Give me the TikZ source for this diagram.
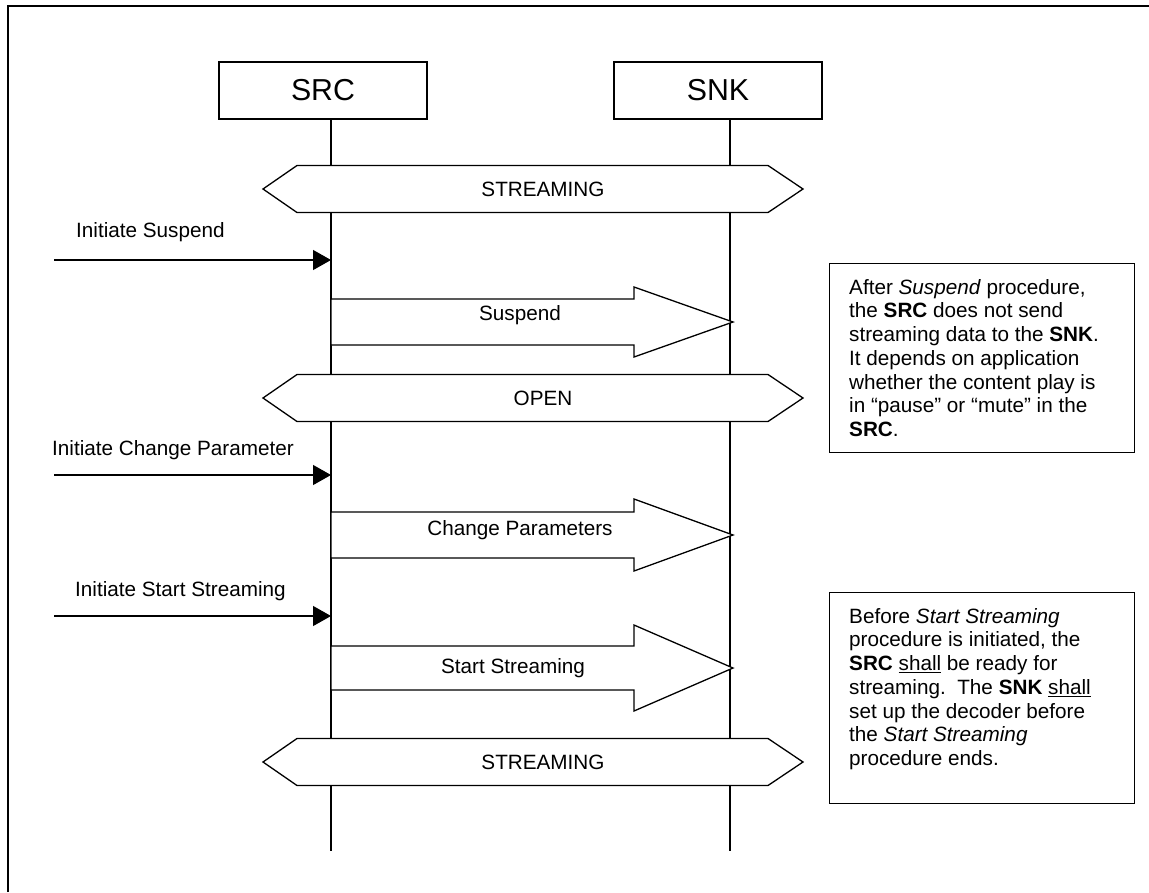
\documentclass[tikz,border=0pt]{standalone}
\usepackage{fontspec}
\setmainfont{Liberation Sans}
\usetikzlibrary{arrows.meta}

\tikzset{
	entity/.style={draw, line width=1.3pt, minimum width=208pt, minimum height=57pt, inner sep=0pt, font=\fontsize{30.3}{36}\selectfont},
	life/.style={line width=1.3pt},
	statebar/.style={draw, line width=1.3pt, fill=white},
	msgbar/.style={draw, line width=1.3pt, fill=white},
	initarrow/.style={line width=1.3pt, -{Triangle[length=18pt,width=20pt]}},
	lbl/.style={inner sep=0pt, font=\fontsize{20.7}{23.7}\selectfont},
	notebox/.style={draw, line width=1.3pt, minimum width=305pt, anchor=north west, inner sep=0pt},
	notetext/.style={lbl, align=left, anchor=north west},
}

\begin{document}
\begin{tikzpicture}[x=1pt, y=-1pt]
	\useasboundingbox (0,0) rectangle (1149,892);
	\def\xs{331}
	\def\xk{730}
	\def\yend{851}
	% frame
	\draw[line width=2pt] (8,892) -- (8,6) -- (1149,6);

	% entities and life lines
	\node[entity] (src) at (323,90.5) {SRC};
	\node[entity] (snk) at (718,90.5) {SNK};
	\coordinate (srcEnd) at (\xs,\yend);
	\coordinate (snkEnd) at (\xk,\yend);
	\draw[life] (src.south -| srcEnd) -- (srcEnd);
	\draw[life] (snk.south -| snkEnd) -- (snkEnd);

	% states
	\foreach \y/\nm/\txt in {189/stream1/STREAMING, 398/open/OPEN, 762/stream2/STREAMING} {
		\draw[statebar] (263,\y) -- (297,\y-23.5) -- (768,\y-23.5) -- (803,\y) -- (768,\y+23.5) -- (297,\y+23.5) -- cycle;
		\node[lbl] (\nm) at (543,\y) {\txt};
	}

	% procedures
	\foreach \y/\bh/\hh/\tx/\ty/\nm/\txt in {322/23/35/520/315/susp/Suspend, 535/23/36/520/530/chg/Change Parameters, 668/22/43/513/668/start/Start Streaming} {
		\draw[msgbar] (\xs,\y-\bh) -- (634,\y-\bh) -- (634,\y-\hh) -- (733,\y) -- (634,\y+\hh) -- (634,\y+\bh) -- (\xs,\y+\bh) -- cycle;
		\node[lbl] (\nm) at (\tx,\ty) {\txt};
	}

	% user requests
	\foreach \y/\tx/\ty/\nm/\txt in {260/76/232/iSusp/Initiate Suspend, 475/52/450/iChg/Initiate Change Parameter, 616/75/591/iStart/Initiate Start Streaming} {
		\coordinate (\nm-a) at (54,\y);
		\coordinate (\nm-b) at (\xs,\y);
		\node[lbl, anchor=west] (\nm) at (\tx,\ty) {\txt};
		\draw[initarrow] (\nm-a) -- (\nm-b);
	}

	% notes
	\node[notebox, minimum height=189pt] (note1) at (829,263) {};
	\node[notetext] (note1txt) at (849,279) {After \textit{Suspend} procedure,\\
		the \textbf{SRC} does not send\\
		streaming data to the \textbf{SNK}.\\
		It depends on application\\
		whether the content play is\\
		in “pause” or “mute” in the\\
		\textbf{SRC}.};
	\node[notebox, minimum height=211pt] (note2) at (829,592) {};
	\node[notetext] (note2txt) at (849,608) {Before \textit{Start Streaming}\\
		procedure is initiated, the\\
		\textbf{SRC} \underline{shall} be ready for\\
		streaming.\ \ The \textbf{SNK} \underline{shall}\\
		set up the decoder before\\
		the \textit{Start Streaming}\\
		procedure ends.};
\end{tikzpicture}
\end{document}
